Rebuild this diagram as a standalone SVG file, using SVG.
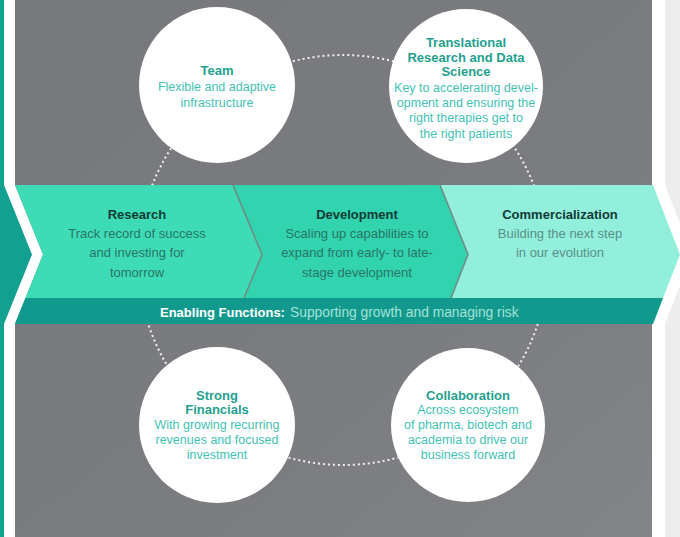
<svg xmlns="http://www.w3.org/2000/svg" width="680" height="537" viewBox="0 0 680 537">
  <style>
    text { font-family: "Liberation Sans", Arial, sans-serif; text-anchor: middle; }
    .ct { font-size: 13px; font-weight: bold; fill: #1f9f90; }
    .cd { font-size: 12.5px; fill: #43c2b3; }
    .bt { font-size: 13px; font-weight: bold; fill: #0e3b34; }
    .bd { font-size: 13px; fill: #287565; }
    .bdc { font-size: 13px; fill: #5a9087; }
    .node-circle { fill: #ffffff; }
    .sep { fill: none; stroke: #6f8c85; stroke-width: 1.6; }
  </style>
  <defs>
    <linearGradient id="bg" x1="0" y1="0" x2="1" y2="1">
      <stop offset="0" stop-color="#77787b"/>
      <stop offset="0.6" stop-color="#7b7c7f"/>
      <stop offset="1" stop-color="#838487"/>
    </linearGradient>
  </defs>

  <!-- background -->
  <rect x="0" y="0" width="680" height="537" fill="#ffffff"/>
  <rect x="665" y="0" width="15" height="537" fill="#ededed"/>
  <rect x="15" y="0" width="637" height="537" fill="url(#bg)"/>
  <polygon points="652,0 665,0 665,185 692,254.5 665,324 665,537 652,537" fill="#ffffff"/>
  <polygon points="15,185 43,254.5 15,324" fill="#ffffff"/>
  <polygon points="0,0 4,0 4,185 32,254.5 4,324 4,537 0,537" fill="#12a091"/>

  <!-- connectors: dotted ring -->
  <g id="connectors">
    <circle cx="343" cy="260" r="205" fill="none" stroke="#ffffff" stroke-width="2" stroke-dasharray="2 3" opacity="0.9"/>
  </g>

  <!-- band -->
  <g id="research">
    <polygon points="15,185 233,185 262,254.5 233,324 15,324 43,254.5" fill="#3ddcb6"/>
    <text class="bt" x="137" y="219">Research</text>
    <text class="bd" x="137" y="238">Track record of success</text>
    <text class="bd" x="137" y="257">and investing for</text>
    <text class="bd" x="137" y="277">tomorrow</text>
  </g>
  <g id="development">
    <polygon points="233,185 440,185 468,254.5 440,324 233,324 262,254.5" fill="#32d4b0"/>
    <polyline class="sep" points="233,185 262,254.5 244,298"/>
    <text class="bt" x="357" y="219">Development</text>
    <text class="bd" x="357" y="238">Scaling up capabilities to</text>
    <text class="bd" x="357" y="257">expand from early- to late-</text>
    <text class="bd" x="357" y="277">stage development</text>
  </g>
  <g id="commercialization">
    <polygon points="440,185 653,185 680,254.5 653,324 440,324 468,254.5" fill="#92efdc"/>
    <polyline class="sep" points="440,185 468,254.5 451,298"/>
    <text class="bt" x="560" y="219">Commercialization</text>
    <text class="bdc" x="560" y="238">Building the next step</text>
    <text class="bdc" x="560" y="257">in our evolution</text>
  </g>
  <g id="enabling">
    <polygon points="25.5,298 663,298 653,324 15,324" fill="#12998d"/>
    <text x="160" y="317" style="text-anchor:start;font-size:13px;font-weight:bold;fill:#ffffff">Enabling Functions:</text>
    <text x="290" y="317" style="text-anchor:start;font-size:13.8px;fill:#a4e2d8">Supporting growth and managing risk</text>
  </g>

  <!-- circle nodes -->
  <g id="team">
    <circle class="node-circle" cx="217" cy="85" r="78"/>
    <text class="ct" x="217" y="75">Team</text>
    <text class="cd" x="217" y="91">Flexible and adaptive</text>
    <text class="cd" x="217" y="107">infrastructure</text>
  </g>
  <g id="translational">
    <circle class="node-circle" cx="466" cy="86" r="77"/>
    <text class="ct" x="466" y="47">Translational</text>
    <text class="ct" x="466" y="62">Research and Data</text>
    <text class="ct" x="466" y="76">Science</text>
    <text class="cd" x="466" y="92">Key to accelerating devel-</text>
    <text class="cd" x="466" y="107">opment and ensuring the</text>
    <text class="cd" x="466" y="122">right therapies get to</text>
    <text class="cd" x="466" y="138">the right patients</text>
  </g>
  <g id="financials">
    <circle class="node-circle" cx="217" cy="425" r="78"/>
    <text class="ct" x="217" y="400">Strong</text>
    <text class="ct" x="217" y="414">Financials</text>
    <text class="cd" x="217" y="429">With growing recurring</text>
    <text class="cd" x="217" y="444">revenues and focused</text>
    <text class="cd" x="217" y="459">investment</text>
  </g>
  <g id="collaboration">
    <circle class="node-circle" cx="468" cy="425" r="77"/>
    <text class="ct" x="468" y="400">Collaboration</text>
    <text class="cd" x="468" y="414">Across ecosystem</text>
    <text class="cd" x="468" y="429">of pharma, biotech and</text>
    <text class="cd" x="468" y="444">academia to drive our</text>
    <text class="cd" x="468" y="459">business forward</text>
  </g>
</svg>
